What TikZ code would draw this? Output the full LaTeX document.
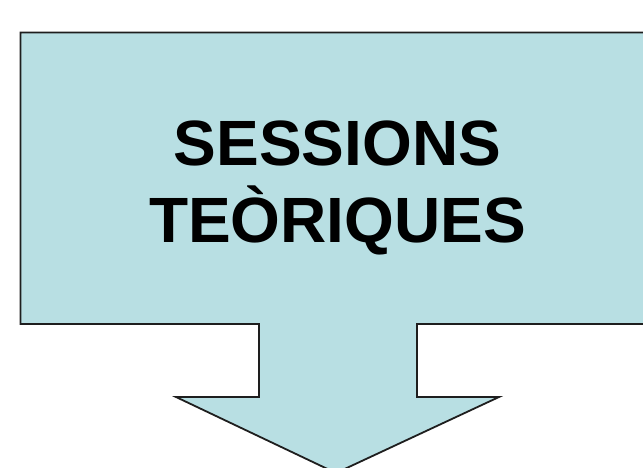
\documentclass[tikz,border=0pt]{standalone}
\usepackage{fontspec}
\setmainfont{Liberation Sans}
\definecolor{calloutfill}{RGB}{184,223,227}
\definecolor{calloutline}{RGB}{30,30,30}
\tikzset{
  callout/.style={fill=calloutfill, draw=calloutline, line width=1.8pt, line join=miter},
  title/.style={font=\fontsize{64}{76}\selectfont\bfseries, align=center, text=black, inner sep=0pt}
}
\begin{document}
\begin{tikzpicture}[x=1pt,y=-1pt]
\useasboundingbox (0,0) rectangle (643,467);
\clip (0,0) rectangle (643,467);
\draw[callout] (20.5,32.5) -- (660,32.5) -- (660,324) -- (417,324) -- (417,397) -- (499,397)
  -- (336,473) -- (176,397) -- (259,397) -- (259,324) -- (20.5,324) -- cycle;
\node[title, anchor=base] (l1) at (337.5,165) {SESSIONS};
\node[title, anchor=base] (l2) at (337.5,242) {TEÒRIQUES};
\end{tikzpicture}
\end{document}
